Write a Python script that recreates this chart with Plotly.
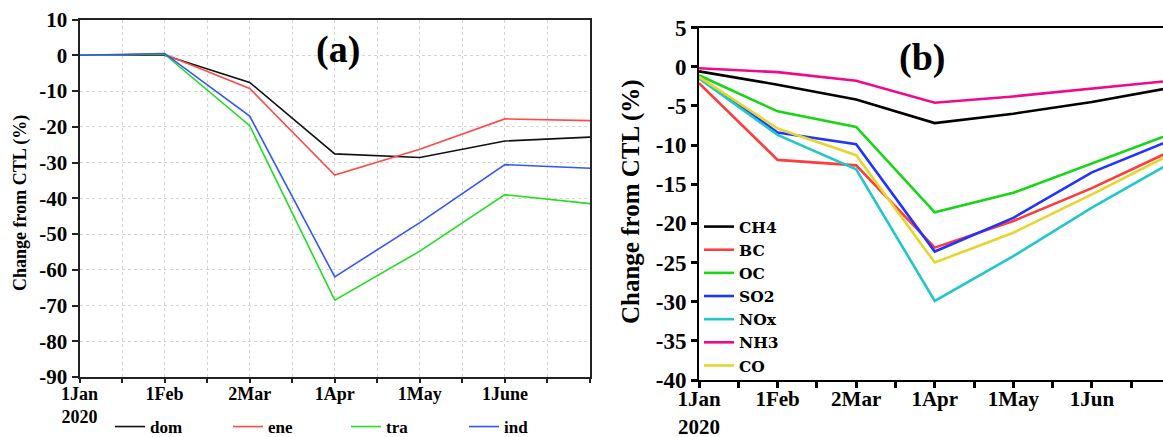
import plotly.graph_objects as go

# ---------------- data ----------------
month_pos = [0, 1, 2, 3, 4, 5, 6]
month_labels_a = ["1Jan<br>2020", "1Feb", "2Mar", "1Apr", "1May", "1June"]
month_labels_b = ["1Jan<br>2020", "1Feb", "2Mar", "1Apr", "1May", "1Jun"]

# panel (a): sectors
dom = [0.0, 0.0, -7.6, -27.6, -28.6, -24.0, -22.9]
ene = [0.0, 0.3, -9.3, -33.5, -26.3, -17.8, -18.3]
tra = [0.0, 0.3, -19.7, -68.5, -54.8, -39.0, -41.5]
ind = [0.0, 0.5, -17.0, -62.0, -46.8, -30.6, -31.6]

# panel (b): species
ch4 = [-0.6, -2.3, -4.2, -7.2, -6.0, -4.5, -2.7]
bc = [-2.1, -11.9, -12.6, -23.1, -19.7, -15.5, -10.8]
oc = [-1.1, -5.7, -7.7, -18.6, -16.1, -12.3, -8.6]
so2 = [-1.3, -8.4, -9.9, -23.6, -19.3, -13.5, -9.4]
nox = [-1.5, -8.7, -13.1, -29.9, -24.2, -18.0, -12.3]
nh3 = [-0.2, -0.7, -1.8, -4.6, -3.8, -2.8, -1.8]
co = [-1.3, -7.9, -11.3, -25.0, -21.2, -16.3, -11.2]

yticks_a = [10, 0, -10, -20, -30, -40, -50, -60, -70, -80, -90]
yticks_b = [5, 0, -5, -10, -15, -20, -25, -30, -35, -40]

series_a = [("dom", dom, "#111111"), ("ene", ene, "#ff4a4a"),
            ("tra", tra, "#22dd22"), ("ind", ind, "#3355ff")]
series_b = [("CH4", ch4, "#000000"), ("BC", bc, "#ff3b3b"), ("OC", oc, "#16d616"),
            ("SO2", so2, "#2233ff"), ("NOx", nox, "#22c8c8"), ("NH3", nh3, "#ee0a8a"),
            ("CO", co, "#e6d52e")]

W, H = 1163, 437
SERIF = "Liberation Serif"

fig = go.Figure()
for name, vals, col in series_a:
    fig.add_trace(go.Scatter(x=month_pos, y=vals, name=name, mode="lines",
                             line=dict(color=col, width=1.6),
                             xaxis="x", yaxis="y", legend="legend"))
for name, vals, col in series_b:
    fig.add_trace(go.Scatter(x=month_pos, y=vals, name=name, mode="lines",
                             line=dict(color=col, width=2.6),
                             xaxis="x2", yaxis="y2", legend="legend2"))

axcol = "#222222"
gridcol = "#d4d4d4"

fig.update_layout(
    width=W, height=H,
    margin=dict(l=0, r=0, t=0, b=0, autoexpand=False),
    paper_bgcolor="white", plot_bgcolor="white",
    xaxis=dict(
        domain=[79.5 / W, 590 / W], range=[0, 6], anchor="y", automargin=False,
        tickmode="array", tickvals=month_pos[:len(month_labels_a)], ticktext=month_labels_a,
        ticks="outside", ticklen=4, tickwidth=1.5, tickcolor=axcol, ticklabelstandoff=-5,
        showline=True, linecolor=axcol, linewidth=2, mirror=True,
        showgrid=True, gridcolor=gridcol, griddash="dot", gridwidth=1,
        minor=dict(dtick=0.5, tick0=0, ticks="outside", ticklen=4, tickwidth=1.5,
                   tickcolor=axcol, showgrid=True, gridcolor=gridcol, griddash="dot"),
        zeroline=False,
        tickfont=dict(family=SERIF, size=18, color="black", weight="bold"),
    ),
    yaxis=dict(
        domain=[1 - 377 / H, 1 - 19.5 / H], range=[-90, 10], anchor="x", automargin=False,
        tickmode="array", tickvals=yticks_a, ticktext=[str(v) for v in yticks_a],
        ticks="outside", ticklen=6, tickwidth=1.5, tickcolor=axcol,
        showline=True, linecolor=axcol, linewidth=2, mirror=True,
        showgrid=True, gridcolor=gridcol, griddash="dot", gridwidth=1,
        zeroline=False,
        tickfont=dict(family=SERIF, size=21, color="black", weight="bold"),
    ),
    xaxis2=dict(
        domain=[699 / W, 1.0], range=[0, 5.905], anchor="y2", automargin=False,
        tickmode="array", tickvals=month_pos[:len(month_labels_b)], ticktext=month_labels_b,
        ticks="outside", ticklen=6, tickwidth=2.5, tickcolor="black", ticklabelstandoff=-7,
        showline=True, linecolor="black", linewidth=2, mirror=True,
        showgrid=False,
        minor=dict(dtick=0.5, tick0=0, ticks="outside", ticklen=6, tickwidth=2.5,
                   tickcolor="black", showgrid=False),
        zeroline=False,
        tickfont=dict(family=SERIF, size=21, color="black", weight="bold"),
    ),
    yaxis2=dict(
        domain=[1 - 380 / H, 1 - 27.5 / H], range=[-40, 5], anchor="x2", automargin=False,
        tickmode="array", tickvals=yticks_b, ticktext=[str(v) for v in yticks_b],
        ticks="outside", ticklen=6, tickwidth=2.5, tickcolor="black",
        showline=True, linecolor="black", linewidth=2, mirror=False,
        showgrid=False, zeroline=False,
        tickfont=dict(family=SERIF, size=23, color="black", weight="bold"),
    ),
    legend=dict(
        orientation="h", x=110 / W, y=1 - 427 / H, xanchor="left", yanchor="middle",
        entrywidth=73, entrywidthmode="pixels", bgcolor="rgba(0,0,0,0)",
        font=dict(family=SERIF, size=17, color="black", weight="bold"),
    ),
    legend2=dict(
        orientation="v", x=699 / W, y=1 - 210 / H, xanchor="left", yanchor="top",
        bgcolor="rgba(0,0,0,0)", tracegroupgap=0,
        font=dict(family="DejaVu Serif", size=15.5, color="black", weight="bold"),
    ),
    annotations=[
        dict(text="(a)", x=338 / W, y=1 - 50 / H, xref="paper", yref="paper",
             xanchor="center", yanchor="middle", showarrow=False,
             font=dict(family=SERIF, size=38, color="black", weight="bold")),
        dict(text="(b)", x=922 / W, y=1 - 57 / H, xref="paper", yref="paper",
             xanchor="center", yanchor="middle", showarrow=False,
             font=dict(family=SERIF, size=38, color="black", weight="bold")),
        dict(text="Change from CTL (%)", x=21 / W, y=1 - 203 / H, xref="paper", yref="paper",
             xanchor="center", yanchor="middle", showarrow=False, textangle=-90,
             font=dict(family=SERIF, size=18, color="black", weight="bold")),
        dict(text="Change from CTL (%)", x=631 / W, y=1 - 202 / H, xref="paper", yref="paper",
             xanchor="center", yanchor="middle", showarrow=False, textangle=-90,
             font=dict(family=SERIF, size=25, color="black", weight="bold")),
    ],
    showlegend=True,
)

fig.write_html("out.html")
